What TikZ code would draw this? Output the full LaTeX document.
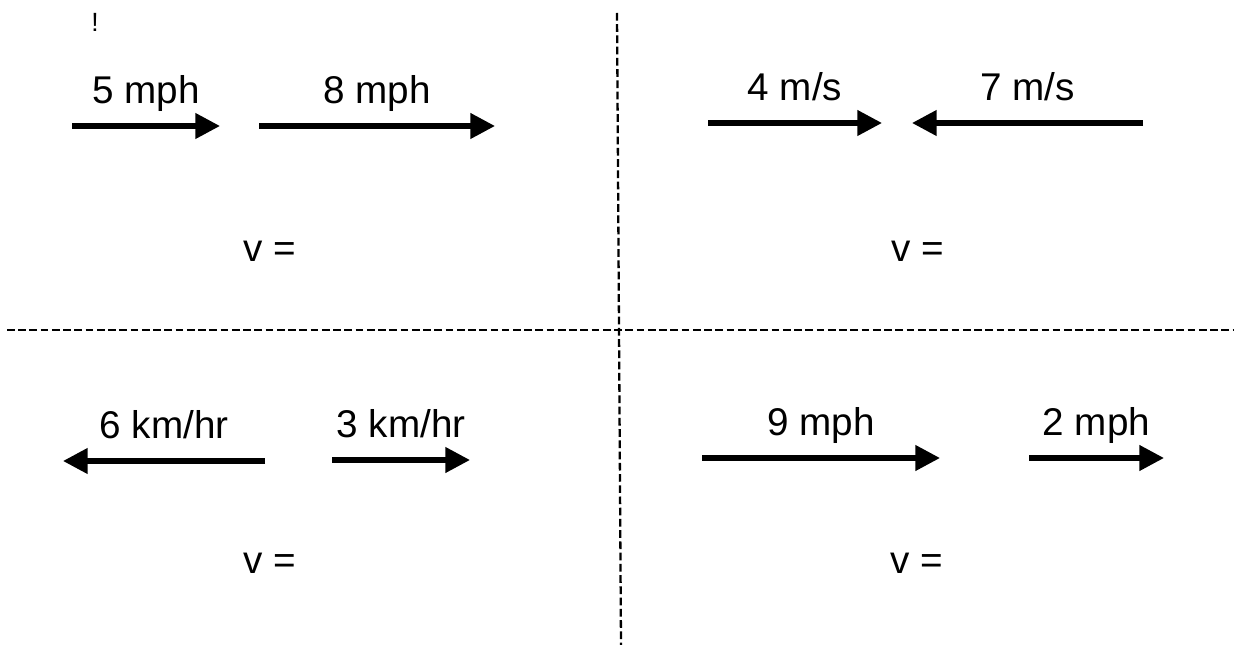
\documentclass[tikz,border=0pt]{standalone}
\usepackage{fontspec}
\setmainfont{Liberation Sans}
\usetikzlibrary{arrows.meta,positioning}

\begin{document}
\begin{tikzpicture}[
        x=0.02cm, y=-0.02cm,
        every node/.style={font=\fontsize{22}{25}\selectfont},
        vec/.style={line width=3pt, -{Triangle[length=14pt, width=14pt]}},
        lbl/.style={midway, anchor=base, yshift=13pt, inner sep=0pt},
        eq/.style={anchor=base, inner sep=0pt},
        divider/.style={line width=1.3pt, dash pattern=on 4.4pt off 2pt}
    ]
        \useasboundingbox (0,0) rectangle (1234,645);

        % dividers
        \coordinate (vtop) at (617,13);
        \coordinate (vbot) at (621,645);
        \coordinate (hleft) at (7,330);
        \coordinate (hright) at (1234,330);
        \draw[divider] (vtop) -- (vbot);
        \draw[divider] (hleft) -- (hright);

        \node[eq, font=\fontsize{15}{17}\selectfont] (bang) at (95,32) {!};

        % top left
        \coordinate (s5) at (72,126);
        \coordinate (e5) at (220,126);
        \coordinate (s8) at (259,126);
        \coordinate (e8) at (495,126);
        \draw[vec] (s5) -- (e5) node[lbl] (l5) {5 mph};
        \draw[vec] (s8) -- (e8) node[lbl] (l8) {8 mph};
        \node[eq] (vtl) at (270,262) {v =};

        % top right
        \coordinate (s4) at (708,123);
        \coordinate (e4) at (882,123);
        \coordinate (s7) at (1143,123);
        \coordinate (e7) at (912,123);
        \draw[vec] (s4) -- (e4) node[lbl] (l4) {4 m/s};
        \draw[vec] (s7) -- (e7) node[lbl] (l7) {7 m/s};
        \node[eq] (vtr) at (918,262) {v =};

        % bottom left
        \coordinate (s6) at (265,461);
        \coordinate (e6) at (63,461);
        \coordinate (s3) at (332,460);
        \coordinate (e3) at (470,460);
        \draw[vec] (s6) -- (e6) node[lbl] (l6) {6 km/hr};
        \draw[vec] (s3) -- (e3) node[lbl] (l3) {3 km/hr};
        \node[eq] (vbl) at (270,573) {v =};

        % bottom right
        \coordinate (s9) at (702,458);
        \coordinate (e9) at (940,458);
        \coordinate (s2) at (1029,458);
        \coordinate (e2) at (1164,458);
        \draw[vec] (s9) -- (e9) node[lbl] (l9) {9 mph};
        \draw[vec] (s2) -- (e2) node[lbl] (l2) {2 mph};
        \node[eq] (vbr) at (917,573) {v =};
\end{tikzpicture}
\end{document}
